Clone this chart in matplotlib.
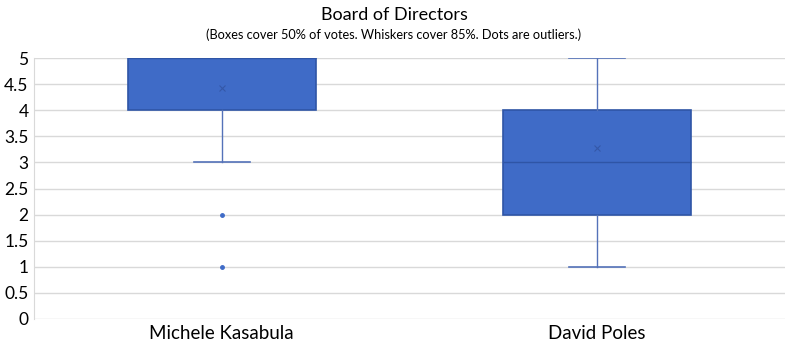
import matplotlib.pyplot as plt

plt.rcParams['font.family'] = ['Lato', 'DejaVu Sans']

# data (whiskers cover 85%, boxes 50%)
names = ['Michele Kasabula', 'David Poles']
whislo = [3, 1]
q1 = [4, 2]
med = [5, 3]
q3 = [5, 4]
whishi = [5, 5]
means = [4.42, 3.27]
outliers = [[2, 1], []]
yticks = [0, 0.5, 1, 1.5, 2, 2.5, 3, 3.5, 4, 4.5, 5]

fill = '#3F6BC7'
edge = '#2F55A6'
wcol = '#5472B9'

stats = []
for i in range(len(names)):
    stats.append({'label': names[i], 'whislo': whislo[i], 'q1': q1[i], 'med': med[i],
                  'q3': q3[i], 'whishi': whishi[i], 'mean': means[i], 'fliers': outliers[i]})

fig = plt.figure(figsize=(7.88, 3.52), dpi=100)
ax = fig.add_axes([0.0431, 0.0938, 0.953, 0.741])

ax.bxp(stats, positions=[1, 2], widths=0.5, patch_artist=True, showmeans=True,
       boxprops=dict(facecolor=fill, edgecolor=edge, linewidth=1.2),
       medianprops=dict(color=edge, linewidth=1),
       whiskerprops=dict(color=wcol, linewidth=1),
       capprops=dict(color=wcol, linewidth=1.2),
       capwidths=0.15,
       meanprops=dict(marker='x', markeredgecolor='#3558A8', markersize=5, markeredgewidth=0.8),
       flierprops=dict(marker='o', markerfacecolor=fill, markeredgecolor=fill, markersize=2.5),
       zorder=3)

ax.set_xlim(0.5, 2.5)
ax.set_ylim(0, 5)
ax.set_yticks(yticks)
ax.set_yticklabels([('%g' % v) for v in yticks], fontsize=12.5)
ax.set_xticks([1, 2])
ax.set_xticklabels(names, fontsize=13.5)
ax.tick_params(length=0, pad=4)
ax.yaxis.grid(True, color='#D9D9D9', linewidth=1)
ax.set_axisbelow(True)
for s in ['top', 'right', 'bottom']:
    ax.spines[s].set_visible(False)
ax.spines['left'].set_color('#D9D9D9')

fig.text(0.5, 0.958, 'Board of Directors', ha='center', va='center', fontsize=13)
fig.text(0.5, 0.902, '(Boxes cover 50% of votes. Whiskers cover 85%. Dots are outliers.)',
         ha='center', va='center', fontsize=9.2)

plt.savefig('out.png', dpi=100)
